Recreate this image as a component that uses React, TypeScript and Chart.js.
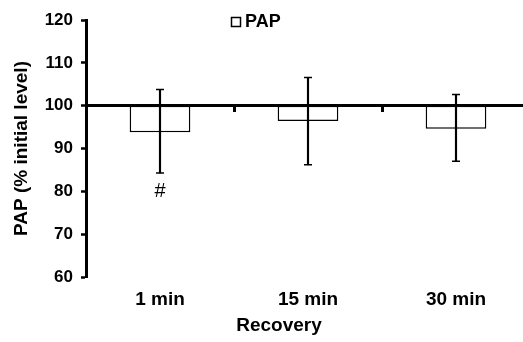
import { useEffect, useRef } from 'react';
import { Chart, registerables } from 'chart.js';

Chart.register(...registerables);

const categories = ['1 min', '15 min', '30 min'];
const meanValues = [93.8, 96.4, 94.6];
const errorHigh = [103.8, 106.6, 102.6];
const errorLow = [84.3, 86.2, 87.0];
const baselineValue = 100;
const yMin = 60;
const yMax = 120;
const yStep = 10;
const significance = ['#', '', ''];
const seriesLabel = 'PAP';
const xTitle = 'Recovery';
const yTitle = 'PAP (% initial level)';

const FONT = "'Liberation Sans', Arial, Helvetica, sans-serif";

export default function App() {
  const ref = useRef<HTMLCanvasElement>(null);

  useEffect(() => {
    if (!ref.current) return;

    const overlay = {
      id: 'overlay',
      afterDraw(chart: any) {
        const { ctx } = chart;
        const x = chart.scales.x;
        const y = chart.scales.y;
        ctx.save();
        ctx.fillStyle = '#000';
        // significance marks
        ctx.font = `20px ${FONT}`;
        ctx.textAlign = 'center';
        ctx.textBaseline = 'middle';
        significance.forEach((s, i) => {
          if (!s) return;
          ctx.fillText(s, x.getPixelForValue(i), y.getPixelForValue(errorLow[i]) + 19);
        });
        // legend
        ctx.strokeStyle = '#000';
        ctx.lineWidth = 1.5;
        ctx.fillStyle = '#fff';
        ctx.fillRect(231.5, 17.5, 9, 9);
        ctx.strokeRect(231.5, 17.5, 9, 9);
        ctx.fillStyle = '#000';
        ctx.font = `bold 18px ${FONT}`;
        ctx.textAlign = 'left';
        ctx.fillText(chart.data.datasets[0].label, 245, 22.5);
        // x-axis title
        ctx.font = `bold 19px ${FONT}`;
        ctx.textAlign = 'center';
        ctx.fillText(xTitle, 279, 326);
        ctx.restore();
      },
    };

    const chart = new Chart(ref.current, {
      type: 'bar',
      data: {
        labels: categories,
        datasets: [
          {
            type: 'bar',
            label: seriesLabel,
            data: meanValues.map((v) => [v, baselineValue]) as any,
            backgroundColor: '#fff',
            borderColor: '#000',
            borderWidth: 1.5,
            borderSkipped: false,
            grouped: false,
            barPercentage: 0.41,
            categoryPercentage: 1,
            order: 3,
            xAxisID: 'x',
          },
          {
            type: 'bar',
            label: 'err',
            data: errorLow.map((v, i) => [v, errorHigh[i]]) as any,
            backgroundColor: '#000',
            borderWidth: 0,
            barThickness: 1.5,
            grouped: false,
            order: 2,
            xAxisID: 'x',
          },
          {
            type: 'line',
            label: 'capHigh',
            data: errorHigh,
            showLine: false,
            pointStyle: 'line',
            pointRadius: 4,
            pointHoverRadius: 4,
            pointBorderWidth: 1.5,
            pointBorderColor: '#000',
            borderColor: '#000',
            order: 1,
            xAxisID: 'x',
          },
          {
            type: 'line',
            label: 'capLow',
            data: errorLow,
            showLine: false,
            pointStyle: 'line',
            pointRadius: 4,
            pointHoverRadius: 4,
            pointBorderWidth: 1.5,
            pointBorderColor: '#000',
            borderColor: '#000',
            order: 1,
            xAxisID: 'x',
          },
        ],
      },
      options: {
        animation: false,
        responsive: false,
        events: [],
        layout: { padding: { top: 20, right: 10, left: 0, bottom: 0 } },
        plugins: {
          legend: { display: false },
          tooltip: { enabled: false },
        },
        scales: {
          x: {
            type: 'category',
            offset: true,
            grid: { display: false },
            border: { display: false },
            ticks: {
              color: '#000',
              font: { family: FONT, size: 19, weight: 'bold' },
              padding: 3,
              maxRotation: 0,
            },
            afterFit(scale: any) {
              scale.height = 65;
            },
          },
          x2: {
            type: 'category',
            axis: 'x',
            position: { y: baselineValue },
            offset: true,
            z: 1,
            grid: {
              offset: true,
              drawOnChartArea: false,
              color: '#000',
              tickLength: 5,
              tickWidth: 3,
            },
            border: { display: true, color: '#000', width: 3 },
            ticks: { display: false },
            afterFit(scale: any) {
              scale.height = 0;
            },
          },
          y: {
            min: yMin,
            max: yMax,
            ticks: {
              stepSize: yStep,
              color: '#000',
              font: { family: FONT, size: 17, weight: 'bold' },
              padding: 8,
            },
            grid: {
              drawOnChartArea: false,
              color: '#000',
              tickLength: 5,
              tickWidth: 2.5,
            },
            border: { display: true, color: '#000', width: 3 },
            title: {
              display: true,
              text: yTitle,
              color: '#000',
              font: { family: FONT, size: 19, weight: 'bold' },
              padding: { top: 10, bottom: 0 },
            },
            afterFit(scale: any) {
              scale.width = 86;
            },
          },
        },
      } as any,
      plugins: [overlay],
    });

    return () => chart.destroy();
  }, []);

  return (
    <div
      style={{
        position: 'fixed',
        left: 0,
        top: 0,
        width: 523,
        height: 342,
        overflow: 'hidden',
        background: '#fff',
      }}
    >
      <canvas ref={ref} width={540} height={342} style={{ display: 'block' }} />
    </div>
  );
}
